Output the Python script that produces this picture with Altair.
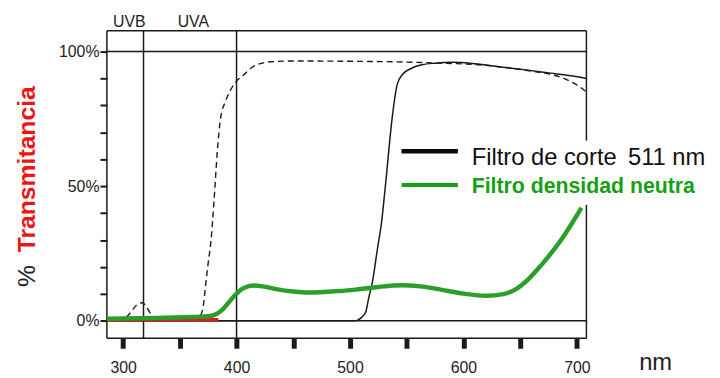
import altair as alt
import pandas as pd

# ---------------- data ----------------
wl_corte = [285.7, 505, 507, 510, 513.9, 516.5, 519.7, 524.1, 527.9, 531.4, 537.2,
            541.6, 546, 554.7, 563.4, 575, 590, 610, 633, 655, 677, 695, 708.4]
tr_corte = [0, 0, 0.3, 1.2, 3.3, 8.5, 14.3, 26.5, 36.9, 51, 75.5,
            87.8, 91.4, 93.9, 95.1, 95.7, 96.0, 95.5, 94.3, 93.2, 92.0, 91.0, 90.0]

wl_dash = [285.7, 295, 302, 306, 310, 314, 317, 320, 323, 326, 330, 350, 364, 368,
           371, 373, 375, 377.3, 380.2, 383.1, 386, 390.4, 397.7, 406.4, 415, 430,
           450, 500, 550, 580, 610, 635, 662, 680, 691, 700, 708.4]
tr_dash = [0.4, 0.6, 1.2, 2.8, 5.0, 6.5, 6.7, 5.6, 3.5, 1.6, 0.9, 0.8, 1.0, 1.9,
           6.5, 14.3, 21.5, 29, 44.9, 63.3, 75.5, 81.6, 87.8, 91.4, 94.5, 96.2,
           96.5, 96.4, 96.1, 95.7, 95.2, 94.2, 92.6, 91.2, 89.6, 87.6, 85.0]

wl_nd = [285.7, 300, 330, 360, 377, 381, 385, 389, 393, 398, 403, 408, 415, 423,
         435, 450, 464, 480, 505, 525, 546, 562, 580, 600, 620, 635, 647, 658,
         668, 678, 686, 695, 704]
tr_nd = [0.8, 0.9, 1.1, 1.4, 1.8, 2.3, 3.3, 4.8, 6.8, 9.2, 11.3, 12.5, 13.1, 12.8,
         11.8, 10.9, 10.5, 10.8, 11.6, 12.6, 13.2, 12.8, 11.6, 10.1, 9.3, 9.9, 12.0, 15.8,
         20.4, 25.5, 30.0, 35.8, 42.0]

wl_red = [285.7, 384]
tr_red = [0.3, 0.5]

band_edges = [318, 400]
band_labels = ["UVB", "UVA"]
band_label_pos = [305.5, 361.9]
ref_levels = [0, 100]

x_ticks = [300, 350, 400, 450, 500, 550, 600, 650, 700]
y_ticks = [0, 10, 20, 30, 40, 50, 60, 70, 80, 90, 100]

legend_labels = ["Filtro de corte", "511 nm", "Filtro densidad neutra"]
y_title = ["%", "Transmitancia"]
x_title = "nm"

# ---------------- styling ----------------
W, H = 485, 311
SANS = "'Liberation Sans', Arial, sans-serif"
LBL = 16
GREEN = "#2a9f2a"
GREEN_TXT = "#16a016"
RED = "#ee1515"
INK = "#1a1a1a"

xscale = alt.Scale(domain=[285.7, 708.4], nice=False, zero=False)
yscale = alt.Scale(domain=[-6.5, 107.7], nice=False, zero=False)

xaxis = alt.Axis(values=x_ticks,
                 labelExpr="datum.value % 100 == 0 ? format(datum.value, 'd') : ''",
                 domain=False, grid=False, tickSize=10, tickWidth=5, tickColor=INK,
                 labelFont=SANS, labelFontSize=LBL, labelColor="#222",
                 labelPadding=12, labelFlush=False, labelOverlap=False, title=None)
yaxis = alt.Axis(values=y_ticks,
                 labelExpr="datum.value % 50 == 0 ? datum.value + '%' : ''",
                 domain=False, grid=False, tickSize=7, tickWidth=2, tickColor=INK,
                 labelFont=SANS, labelFontSize=LBL, labelColor="#222",
                 labelPadding=1, labelFlush=False, labelOverlap=False, title=None)


def X(f):
    return alt.X(f, type="quantitative", scale=xscale, axis=xaxis)


def Y(f):
    return alt.Y(f, type="quantitative", scale=yscale, axis=yaxis)


one = pd.DataFrame({"k": [0]})

# frame
frame = [
    alt.Chart(one).mark_rule(color=INK, strokeWidth=1.5).encode(x=alt.value(0), x2=alt.value(W), y=alt.value(0)),
    alt.Chart(one).mark_rule(color=INK, strokeWidth=1.5).encode(x=alt.value(0), x2=alt.value(W), y=alt.value(H)),
    alt.Chart(one).mark_rule(color=INK, strokeWidth=1.5).encode(x=alt.value(0), y=alt.value(0), y2=alt.value(H)),
    alt.Chart(one).mark_rule(color=INK, strokeWidth=1.5).encode(x=alt.value(W), y=alt.value(0), y2=alt.value(111)),
    alt.Chart(one).mark_rule(color=INK, strokeWidth=1.5).encode(x=alt.value(W), y=alt.value(176), y2=alt.value(H)),
]

refs = alt.Chart(pd.DataFrame({"t": ref_levels})).mark_rule(color=INK, strokeWidth=1.5).encode(
    y=Y("t"), x=alt.value(0), x2=alt.value(W))
bands = alt.Chart(pd.DataFrame({"wl": band_edges})).mark_rule(color=INK, strokeWidth=1.5).encode(
    x=X("wl"), y=alt.value(0), y2=alt.value(H))
band_txt = alt.Chart(pd.DataFrame({"wl": band_label_pos, "lab": band_labels})).mark_text(
    font=SANS, fontSize=LBL, color="#222", align="center", baseline="alphabetic").encode(
    x=X("wl"), y=alt.value(-4), text="lab:N")

dash = alt.Chart(pd.DataFrame({"wl": wl_dash, "t": tr_dash})).mark_line(
    color=INK, strokeWidth=1.4, strokeDash=[6, 4], interpolate="monotone").encode(x=X("wl"), y=Y("t"))
corte = alt.Chart(pd.DataFrame({"wl": wl_corte, "t": tr_corte})).mark_line(
    color=INK, strokeWidth=1.5, interpolate="monotone").encode(x=X("wl"), y=Y("t"))
red = alt.Chart(pd.DataFrame({"wl": wl_red, "t": tr_red})).mark_line(
    color=RED, strokeWidth=3).encode(x=X("wl"), y=Y("t"))
nd = alt.Chart(pd.DataFrame({"wl": wl_nd, "t": tr_nd})).mark_line(
    color=GREEN, strokeWidth=4.5, interpolate="monotone").encode(x=X("wl"), y=Y("t"))

# titles
yt_pct = alt.Chart(one).mark_text(text=y_title[0], font=SANS, fontSize=25, color="#222", angle=270,
                                  align="center", baseline="alphabetic").encode(
    x=alt.value(-73), y=alt.value(248))
yt_main = alt.Chart(one).mark_text(text=y_title[1], font=SANS, fontSize=25, fontWeight="bold", color=RED,
                                   angle=270, align="center", baseline="alphabetic").encode(
    x=alt.value(-73), y=alt.value(140))
xt = alt.Chart(one).mark_text(text=x_title, font=SANS, fontSize=24, color="#222",
                              align="center", baseline="alphabetic").encode(
    x=alt.value(555), y=alt.value(343))

# legend
leg = [
    alt.Chart(one).mark_rule(color="#0a0a0a", strokeWidth=4.5).encode(
        x=alt.value(298), x2=alt.value(355), y=alt.value(121.7)),
    alt.Chart(one).mark_rule(color=GREEN_TXT, strokeWidth=4).encode(
        x=alt.value(298), x2=alt.value(355), y=alt.value(156)),
    alt.Chart(one).mark_text(text=legend_labels[0], font=SANS, fontSize=24, color="#111",
                             align="left", baseline="alphabetic").encode(x=alt.value(369), y=alt.value(136)),
    alt.Chart(one).mark_text(text=legend_labels[1], font=SANS, fontSize=24, color="#111",
                             align="left", baseline="alphabetic").encode(x=alt.value(527), y=alt.value(136)),
    alt.Chart(one).mark_text(text=legend_labels[2], font=SANS, fontSize=21.5, fontWeight="bold",
                             color=GREEN_TXT, align="left", baseline="alphabetic").encode(
        x=alt.value(369), y=alt.value(164.3)),
]

chart = alt.layer(
    *frame, refs, bands, band_txt, dash, corte, red, nd, yt_pct, yt_main, xt, *leg
).properties(
    width=W, height=H,
    autosize=alt.AutoSizeParams(type="none"),
    padding={"left": 100, "top": 21, "right": 127, "bottom": 38},
    background="white",
).configure_view(stroke=None)

chart.save("out.html", embed_options={"renderer": "svg", "actions": False})
